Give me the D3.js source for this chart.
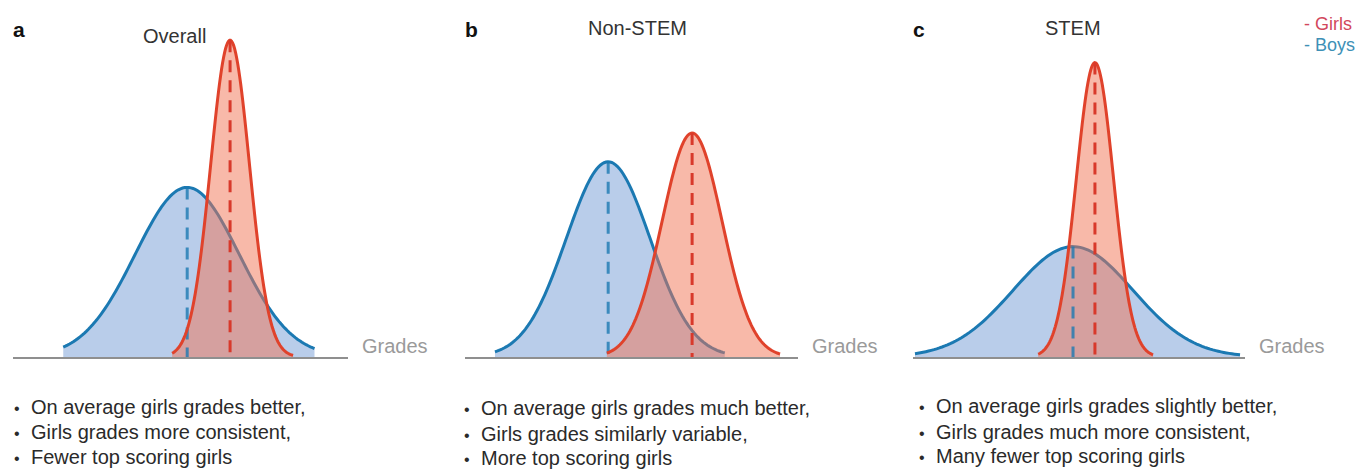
<!DOCTYPE html>
<html>
<head>
<meta charset="utf-8">
<script src="https://cdn.jsdelivr.net/npm/d3@7"></script>
<style>
  body { margin: 0; background: #fff; }
  text { font-family: "Liberation Sans", Arial, Helvetica, sans-serif; }
</style>
</head>
<body>
<svg id="chart" width="1362" height="470"></svg>
<script>
// panel labels, titles and notes
var panelLetters = ["a", "b", "c"];
var panelTitles = ["Overall", "Non-STEM", "STEM"];
var panelNotes = [
  ["On average girls grades better,", "Girls grades more consistent,", "Fewer top scoring girls"],
  ["On average girls grades much better,", "Girls grades similarly variable,", "More top scoring girls"],
  ["On average girls grades slightly better,", "Girls grades much more consistent,", "Many fewer top scoring girls"]
];

// distribution parameters (grade axis 0-100, height 0-1)
var boysMean  = [52, 43, 48.2];
var boysSd    = [15.5, 12.6, 18];
var boysPeak  = [0.53, 0.61, 0.345];
var boysRange = [[15, 90], [9, 78], [0.6, 98.5]];

var girlsMean  = [64.8, 68.2, 54.8];
var girlsSd    = [5.8, 9.0, 5.6];
var girlsPeak  = [0.99, 0.70, 0.92];
var girlsRange = [[47.5, 83.6], [42.6, 94.6], [37.7, 72.3]];

var legendLabels = ["- Girls", "- Boys"];

var svg = d3.select("#chart");

// layout of the three panels
var axisX = [[13, 348], [465, 798], [913, 1245]];
var titleX = [143, 588, 1045];
var titleY = [43, 35, 35];
var noteX = [18, 468, 923];
var noteY = [[414, 439, 464], [415, 441, 465], [413, 439, 463]];

var blue = "#1b79b2", blueFill = "#b9cdea";
var red = "#e0422b", redFill = "rgba(242,116,84,0.5)";

var y = d3.scaleLinear().domain([0, 1]).range([357, 37]);

function curvePts(mean, sd, peak, range) {
  var pts = [];
  var n = 120;
  for (var i = 0; i <= n; i++) {
    var g = range[0] + (range[1] - range[0]) * i / n;
    pts.push([g, peak * Math.exp(-(g - mean) * (g - mean) / (2 * sd * sd))]);
  }
  return pts;
}

panelLetters.forEach(function (letter, i) {
  var x = d3.scaleLinear().domain([0, 100]).range(axisX[i]);
  var g = svg.append("g");

  var area = d3.area().x(function (d) { return x(d[0]); })
      .y0(y(0)).y1(function (d) { return y(d[1]); });
  var line = d3.line().x(function (d) { return x(d[0]); })
      .y(function (d) { return y(d[1]); });

  var boys = curvePts(boysMean[i], boysSd[i], boysPeak[i], boysRange[i]);
  var girls = curvePts(girlsMean[i], girlsSd[i], girlsPeak[i], girlsRange[i]);

  // baseline
  g.append("line")
      .attr("x1", x(0)).attr("x2", x(100))
      .attr("y1", y(0) + 1).attr("y2", y(0) + 1)
      .attr("stroke", "#8f8f8f").attr("stroke-width", 2);

  g.append("path").attr("d", area(boys)).attr("fill", blueFill);
  g.append("path").attr("d", line(boys)).attr("fill", "none")
      .attr("stroke", blue).attr("stroke-width", 3);

  g.append("path").attr("d", area(girls)).attr("fill", redFill);

  // boys mean line stays visible through the girls fill
  g.append("line")
      .attr("x1", x(boysMean[i])).attr("x2", x(boysMean[i]))
      .attr("y1", y(boysPeak[i])).attr("y2", y(0))
      .attr("stroke", blue).attr("stroke-width", 3)
      .attr("stroke-opacity", 0.8)
      .attr("stroke-dasharray", "12,8");

  g.append("path").attr("d", line(girls)).attr("fill", "none")
      .attr("stroke", red).attr("stroke-width", 3);

  g.append("line")
      .attr("x1", x(girlsMean[i])).attr("x2", x(girlsMean[i]))
      .attr("y1", y(girlsPeak[i])).attr("y2", y(0))
      .attr("stroke", "#d8392b").attr("stroke-width", 3)
      .attr("stroke-dasharray", "12,8");

  g.append("text")
      .attr("x", x(100) + 14).attr("y", 353)
      .attr("font-size", 20).attr("fill", "#9a9a9a")
      .text("Grades");

  g.append("text")
      .attr("x", axisX[i][0]).attr("y", 37)
      .attr("font-size", 21).attr("font-weight", "bold").attr("fill", "#111")
      .text(letter);

  g.append("text")
      .attr("x", titleX[i]).attr("y", titleY[i])
      .attr("font-size", 20).attr("fill", "#333")
      .text(panelTitles[i]);

  panelNotes[i].forEach(function (t, j) {
    g.append("text")
        .attr("x", noteX[i] - 4).attr("y", noteY[i][j])
        .attr("font-size", 16).attr("fill", "#2a2a2a")
        .text("\u2022");
    g.append("text")
        .attr("x", noteX[i] + 13).attr("y", noteY[i][j])
        .attr("font-size", 20).attr("fill", "#2a2a2a")
        .text(t);
  });
});

svg.selectAll(".legend")
    .data(legendLabels)
    .enter().append("text")
    .attr("class", "legend")
    .attr("x", 1304)
    .attr("y", function (d, i) { return 30 + i * 21; })
    .attr("font-size", 18)
    .attr("fill", function (d, i) { return i === 0 ? "#d2485c" : "#3e90b6"; })
    .text(function (d) { return d; });
</script>
</body>
</html>
